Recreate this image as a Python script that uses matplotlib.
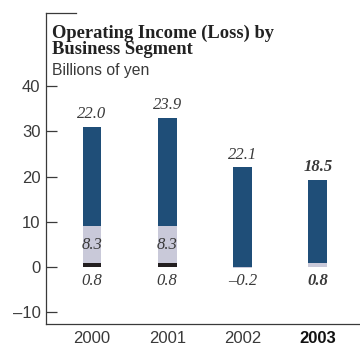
import matplotlib
matplotlib.use('Agg')
import numpy as np
import matplotlib.pyplot as plt

years = ['2000', '2001', '2002', '2003']
blue_seg = [22.0, 23.9, 22.1, 18.5]
gray_seg = [8.3, 8.3, -0.2, 0.8]
black_seg = [0.8, 0.8, 0.0, 0.0]
y_ticks = [-10, 0, 10, 20, 30, 40]

c_blue = '#1f4e78'
c_gray = '#c9c9d9'
c_black = '#231f20'
c_text = '#3a3a3a'

fig = plt.figure(figsize=(3.6, 3.46), dpi=100)
ax = fig.add_axes([0.128, 0.064, 0.872, 0.898])

x = np.arange(len(years))
w = 0.25
black = np.array(black_seg)
gray = np.array(gray_seg)
blue = np.array(blue_seg)

ax.bar(x, black, w, color=c_black)
gray_base = black.copy()
gray_base[gray < 0] = 0
ax.bar(x, gray, w, bottom=gray_base, color=c_gray)
blue_base = black + np.clip(gray, 0, None)
ax.bar(x, blue, w, bottom=blue_base, color=c_blue)

serif = 'Liberation Serif'
for i in range(len(years)):
    weight = 'bold' if i == len(years) - 1 else 'normal'
    kw = dict(family=serif, style='italic', weight=weight, color=c_text,
              fontsize=12, ha='center')
    top = blue_base[i] + blue[i]
    ax.text(x[i], top + 1.0, f'{blue[i]:.1f}', va='bottom', **kw)
    if abs(gray[i]) >= 2:
        ax.text(x[i], gray_base[i] + gray[i] / 2, f'{gray[i]:.1f}', va='center', **kw)
    low = black[i] if black[i] != 0 else gray[i]
    txt = f'{low:.1f}'.replace('-', '\u2013')
    ax.text(x[i], -1.4, txt, va='top', **kw)

ax.set_xlim(-0.61, 3.56)
ax.set_ylim(-12.6, 56.2)
ax.set_yticks(y_ticks)
ax.set_yticklabels([str(t).replace('-', '\u2013') for t in y_ticks])
ax.set_xticks(x)
ax.set_xticklabels(years)
ax.tick_params(axis='y', direction='in', length=8, width=0.9, color=c_text,
               labelsize=12, labelcolor=c_text, pad=4)
ax.tick_params(axis='x', length=0, labelsize=12, labelcolor=c_text, pad=5)
for lab in ax.get_yticklabels() + ax.get_xticklabels():
    lab.set_family('Liberation Sans')
ax.get_xticklabels()[-1].set_fontweight('bold')
ax.get_xticklabels()[-1].set_color('#111111')

for s in ['top', 'right']:
    ax.spines[s].set_visible(False)
for s in ['left', 'bottom']:
    ax.spines[s].set_color(c_text)
    ax.spines[s].set_linewidth(0.9)
ax.plot([0, 0.096], [1, 1], transform=ax.transAxes, color=c_text, lw=0.9,
        clip_on=False)

fig.text(0.144, 0.93, 'Operating Income (Loss) by\nBusiness Segment',
         family=serif, weight='bold', fontsize=13.3, color='#222222',
         va='top', ha='left', linespacing=0.95)
fig.text(0.144, 0.775, 'Billions of yen', family='Liberation Sans',
         fontsize=11.3, color=c_text, va='bottom', ha='left')

fig.savefig('out.png', dpi=100)
